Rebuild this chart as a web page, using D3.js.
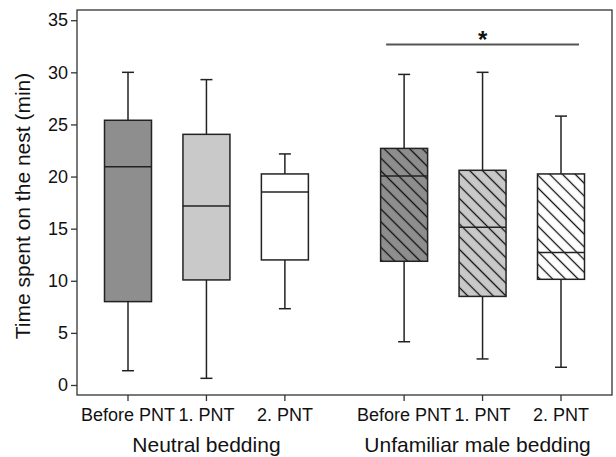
<!DOCTYPE html>
<html><head><meta charset="utf-8">
<script src="https://cdn.jsdelivr.net/npm/d3@7"></script>
<style>body{margin:0;background:#fff;} text{font-family:"Liberation Sans",Arial,sans-serif;fill:#111;}</style>
</head><body>
<svg id="c" width="616" height="457"></svg>
<script>
const categories = ["Before PNT","1. PNT","2. PNT","Before PNT","1. PNT","2. PNT"];
const groups = ["Neutral bedding","Unfamiliar male bedding"];
const whiskerLow = [1.37, 0.64, 7.32, 4.15, 2.5, 1.7];
const q1 =         [8.0, 10.08, 12.0, 11.87, 8.5, 10.14];
const median =     [20.95, 17.18, 18.52, 20.06, 15.13, 12.72];
const q3 =         [25.4, 24.05, 20.25, 22.7, 20.6, 20.25];
const whiskerHigh= [30.0, 29.3, 22.17, 29.8, 30.0, 25.8];
const fills = ["#8e8e8e","#c9c9c9","#ffffff","#8e8e8e","#c9c9c9","#ffffff"];
const hatched = [false,false,false,true,true,true];
const yTicks = [0,5,10,15,20,25,30,35];
const sigLevel = 32.66;

const svg = d3.select("#c");
const L=77, R=612, T=10, B=395;
const y = d3.scaleLinear().domain([-0.96, 35.98]).range([B, T]);
const x = d3.scaleLinear().domain([0, 5.52]).range([128, 561]);
const pos = i => x(i + (i >= 3 ? 0.52 : 0));
const bw = 47, cap = 12;

const defs = svg.append("defs");
const pat = defs.append("pattern").attr("id","hatch").attr("patternUnits","userSpaceOnUse")
  .attr("width",9).attr("height",9).attr("patternTransform","rotate(-45)");
pat.append("line").attr("x1",0).attr("y1",0).attr("x2",0).attr("y2",9)
  .attr("stroke","#111").attr("stroke-width",1.3).attr("transform","translate(4.5,0)");

// frame
svg.append("rect").attr("x",L).attr("y",T).attr("width",R-L).attr("height",B-T)
  .attr("fill","none").attr("stroke","#333").attr("stroke-width",1.3);

// y axis
const yAxis = svg.append("g").attr("transform",`translate(${L},0)`)
  .call(d3.axisLeft(y).tickValues(yTicks).tickSize(6).tickPadding(3));
yAxis.select(".domain").remove();
yAxis.selectAll("line").attr("stroke","#333").attr("stroke-width",1.3);
yAxis.selectAll("text").style("font-size","18px").style("font-family","Liberation Sans, Arial, sans-serif").attr("fill","#111");

// x ticks
const xg = svg.append("g");
categories.forEach((c,i)=>{
  xg.append("line").attr("x1",pos(i)).attr("x2",pos(i)).attr("y1",B).attr("y2",B+6)
    .attr("stroke","#333").attr("stroke-width",1.3);
  xg.append("text").attr("x",pos(i)).attr("y",421).attr("text-anchor","middle")
    .style("font-size","18px").text(c);
});
groups.forEach((g,k)=>{
  const cx = k===0 ? pos(1) : pos(4) - 5;
  svg.append("text").attr("x",cx).attr("y",452).attr("text-anchor","middle")
    .style("font-size","21px").text(g);
});

// y title
svg.append("text").attr("transform",`translate(30,206) rotate(-90)`)
  .attr("text-anchor","middle").style("font-size","21px").text("Time spent on the nest (min)");

// boxes
const bx = svg.append("g");
categories.forEach((c,i)=>{
  const cx = pos(i);
  const ln = (x1,y1,x2,y2)=>bx.append("line").attr("x1",x1).attr("y1",y1).attr("x2",x2).attr("y2",y2)
     .attr("stroke","#222").attr("stroke-width",1.5);
  ln(cx, y(whiskerHigh[i]), cx, y(q3[i]));
  ln(cx, y(q1[i]), cx, y(whiskerLow[i]));
  ln(cx-cap/2, y(whiskerHigh[i]), cx+cap/2, y(whiskerHigh[i]));
  ln(cx-cap/2, y(whiskerLow[i]), cx+cap/2, y(whiskerLow[i]));
  bx.append("rect").attr("x",cx-bw/2).attr("y",y(q3[i])).attr("width",bw).attr("height",y(q1[i])-y(q3[i]))
    .attr("fill",fills[i]);
  if (hatched[i]) bx.append("rect").attr("x",cx-bw/2).attr("y",y(q3[i])).attr("width",bw).attr("height",y(q1[i])-y(q3[i]))
    .attr("fill","url(#hatch)");
  bx.append("rect").attr("x",cx-bw/2).attr("y",y(q3[i])).attr("width",bw).attr("height",y(q1[i])-y(q3[i]))
    .attr("fill","none").attr("stroke","#222").attr("stroke-width",1.5);
  ln(cx-bw/2, y(median[i]), cx+bw/2, y(median[i]));
});

// significance
svg.append("line").attr("x1",pos(3)-18).attr("x2",pos(5)+18).attr("y1",y(sigLevel)).attr("y2",y(sigLevel))
  .attr("stroke","#555").attr("stroke-width",2);
svg.append("text").attr("x",pos(4)).attr("y",y(sigLevel)+3).attr("text-anchor","middle")
  .style("font-size","24px").style("font-weight","bold").text("*");
</script>
</body></html>
